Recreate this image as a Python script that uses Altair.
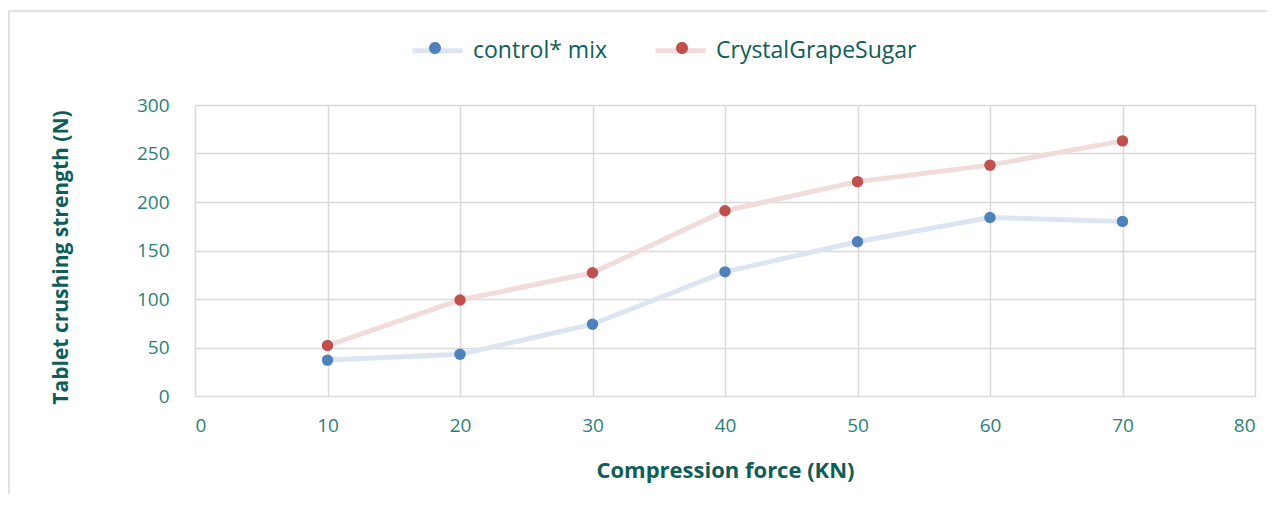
import altair as alt
import pandas as pd

force = [10, 20, 30, 40, 50, 60, 70]
control_mix = [37, 43, 74, 128, 159, 184, 180]
crystal_grape_sugar = [52, 99, 127, 191, 221, 238, 263]
series_names = ["control* mix", "CrystalGrapeSugar"]
x_ticks = [0, 10, 20, 30, 40, 50, 60, 70, 80]
y_ticks = [0, 50, 100, 150, 200, 250, 300]

rows = []
for f, v in zip(force, control_mix):
    rows.append({"force": f, "strength": v, "series": series_names[0]})
for f, v in zip(force, crystal_grape_sugar):
    rows.append({"force": f, "strength": v, "series": series_names[1]})
df = pd.DataFrame(rows)

FONT = "Open Sans"
LABEL_C = "#2b7f7a"
TITLE_C = "#0e5d59"
line_colors = ["#dce6f2", "#f2dcdb"]
point_colors = ["#4f81bd", "#c0504d"]

x_enc = alt.X("force:Q", scale=alt.Scale(domain=[0, 80], nice=False),
              axis=alt.Axis(values=x_ticks, title="Compression force (KN)", grid=True,
                            domain=False, ticks=False, labelPadding=20,
                            labelFontSize=19, labelColor=LABEL_C, labelFont=FONT,
                            titleFont=FONT, titleFontSize=22, titleFontWeight="bold",
                            titleColor=TITLE_C, titleY=74, titleBaseline="middle"))
y_enc = alt.Y("strength:Q", scale=alt.Scale(domain=[0, 300], nice=False),
              axis=alt.Axis(values=y_ticks, title="Tablet crushing strength (N)", grid=True,
                            domain=False, ticks=False, labelPadding=26,
                            labelFontSize=19, labelColor=LABEL_C, labelFont=FONT,
                            titleFont=FONT, titleFontSize=21, titleFontWeight="bold",
                            titleColor=TITLE_C, titleX=-134, titleY=152,
                            titleAngle=-90, titleAlign="center", titleBaseline="middle"))

circle_path = "M-0.24,0A0.24,0.24 0 1,0 0.24,0A0.24,0.24 0 1,0 -0.24,0Z"

legend_common = dict(orient="none", direction="horizontal", legendX=215, legendY=-82,
                     title=None, labelFont=FONT, labelFontSize=23, labelColor=TITLE_C,
                     labelLimit=400, symbolSize=2500, labelOffset=8)

lines = alt.Chart(df).mark_line(strokeWidth=5).encode(
    x=x_enc, y=y_enc,
    stroke=alt.Stroke("series:N", sort=series_names,
                      scale=alt.Scale(domain=series_names, range=line_colors),
                      legend=alt.Legend(symbolType="stroke", symbolStrokeWidth=5,
                                        columnPadding=38, **legend_common)),
    detail="series:N",
)

points = alt.Chart(df).mark_point(filled=True, size=130, opacity=1, strokeWidth=0).encode(
    x="force:Q", y="strength:Q",
    fill=alt.Fill("series:N", sort=series_names,
                  scale=alt.Scale(domain=series_names, range=point_colors),
                  legend=alt.Legend(symbolType=circle_path, symbolStrokeWidth=0,
                                    labelExpr="''", columnPadding=189, **legend_common)),
)

frame = alt.Chart(pd.DataFrame({"a": [0]})).mark_rect(
    fill=None, stroke="#d9d9d9", strokeWidth=1.5).encode(
    x=alt.value(-186), x2=alt.value(1110), y=alt.value(-94), y2=alt.value(420))

chart = alt.layer(frame, lines, points).resolve_scale(stroke="independent", fill="independent").properties(
    width=1060, height=291,
    autosize=alt.AutoSizeParams(type="none"),
    padding={"left": 187, "top": 97, "right": 12, "bottom": 98},
).configure_view(stroke=None).configure_axis(gridColor="#d9d9d9", gridWidth=1.5)

chart.save("out.html", embed_options={"renderer": "svg", "actions": False})
